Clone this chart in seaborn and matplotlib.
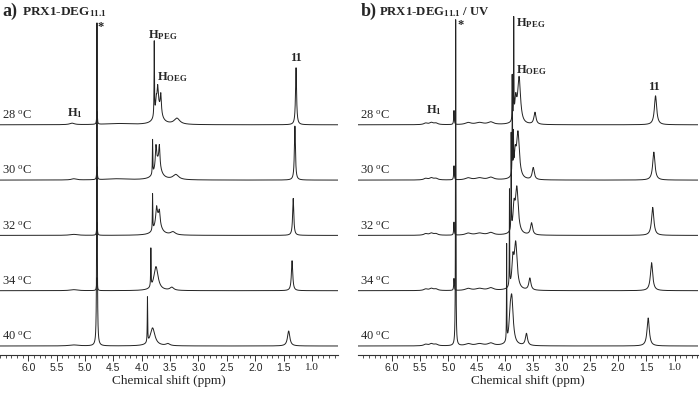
import numpy as np
import pandas as pd
import matplotlib
matplotlib.use("Agg")
import matplotlib.pyplot as plt
import seaborn as sns
from matplotlib.ticker import MultipleLocator

# temperatures, top trace first
temps = ["28", "30", "32", "34", "40"]

# peak lists per trace: (shift ppm, height, half width ppm)
# panel a) PRX1-DEG11.1
peaks_a_28 = [(5.23, 1.5, 0.05), (4.79, 13, 0.007), (4.45, 1.2, 0.25), (3.78, 74, 0.004),
              (3.745, 12, 0.012), (3.72, 19, 0.012), (3.665, 19, 0.012), (3.71, 18, 0.06),
              (3.38, 6, 0.06), (1.28, 57, 0.011)]
peaks_a_30 = [(5.2, 1.2, 0.05), (4.79, 13, 0.007), (4.45, 1.2, 0.25), (3.81, 34, 0.004),
              (3.75, 20, 0.012), (3.69, 20, 0.012), (3.72, 18, 0.06), (3.40, 5, 0.06),
              (1.30, 54, 0.011)]
peaks_a_32 = [(5.2, 1.0, 0.08), (4.79, 13, 0.007), (3.81, 36, 0.004), (3.74, 14, 0.015),
              (3.69, 12, 0.015), (3.72, 16, 0.06), (3.45, 3, 0.05), (1.33, 37, 0.012)]
peaks_a_34 = [(5.2, 1.0, 0.08), (4.79, 13, 0.007), (3.84, 38, 0.004), (3.75, 24, 0.045),
              (3.47, 3, 0.04), (1.35, 30, 0.014)]
peaks_a_40 = [(5.2, 1.0, 0.1), (4.79, 323, 0.005), (3.90, 45, 0.004), (3.81, 18, 0.05),
              (3.54, 2, 0.04), (1.41, 15, 0.025)]

# panel b) PRX1-DEG11.1 / UV
humps_b = [(5.40, 1.5, 0.04), (5.30, 2.0, 0.04), (5.22, 1.5, 0.04),
           (4.65, 2.0, 0.06), (4.45, 2.0, 0.08), (4.25, 2.5, 0.06)]
peaks_b_28 = humps_b + [(4.90, 14, 0.006), (3.87, 44, 0.003), (3.845, 98, 0.003),
                        (3.81, 22, 0.02), (3.75, 46, 0.03), (3.47, 12, 0.022), (1.34, 29, 0.024)]
peaks_b_30 = humps_b + [(4.90, 14, 0.006), (3.87, 98, 0.003), (3.85, 36, 0.003),
                        (3.82, 22, 0.02), (3.77, 46, 0.03), (3.50, 12, 0.022), (1.37, 28, 0.024)]
peaks_b_32 = humps_b + [(4.90, 13, 0.006), (3.89, 96, 0.003), (3.84, 24, 0.02),
                        (3.79, 46, 0.03), (3.53, 12, 0.022), (1.39, 28, 0.024)]
peaks_b_34 = humps_b + [(4.90, 12, 0.006), (3.92, 96, 0.003), (3.86, 26, 0.02),
                        (3.81, 46, 0.03), (3.56, 12, 0.022), (1.41, 28, 0.024)]
peaks_b_40 = humps_b + [(4.87, 326, 0.004), (3.97, 96, 0.003), (3.91, 18, 0.02),
                        (3.88, 46, 0.03), (3.62, 12, 0.022), (1.47, 28, 0.024)]

tick_vals = [6.0, 5.5, 5.0, 4.5, 4.0, 3.5, 3.0, 2.5, 2.0, 1.5, 1.0]


def lorentz_sum(ppm, peaks):
    y = np.zeros_like(ppm)
    for x0, h, w in peaks:
        y += h / (1 + ((ppm - x0) / w) ** 2)
    return y


def build_frame(peak_sets):
    ppm = np.linspace(6.7, 0.4, 30000)
    rows = []
    step = 55.3
    for i, (t, pk) in enumerate(zip(temps, peak_sets)):
        off = (len(temps) - 1 - i) * step
        rows.append(pd.DataFrame({"ppm": ppm, "signal": lorentz_sum(ppm, pk) + off, "temp": t}))
    return pd.concat(rows, ignore_index=True)


plt.rcParams["mathtext.fontset"] = "custom"
plt.rcParams["mathtext.rm"] = "Liberation Serif"
plt.rcParams["mathtext.bf"] = "Liberation Serif:bold"
plt.rcParams["mathtext.it"] = "Liberation Serif:italic"
sns.set_theme(style="white")
serif = "Liberation Serif"

fig = plt.figure(figsize=(7, 3.94), dpi=100)
ax_a = fig.add_axes([0.0, 39 / 394, 338 / 700, 340 / 394])
ax_b = fig.add_axes([358.3 / 700, 39 / 394, 339.7 / 700, 340 / 394])

panels = [
    (ax_a, [peaks_a_28, peaks_a_30, peaks_a_32, peaks_a_34, peaks_a_40], (6.5, 0.54)),
    (ax_b, [peaks_b_28, peaks_b_30, peaks_b_32, peaks_b_34, peaks_b_40], (6.59, 0.59)),
]

for ax, sets, xl in panels:
    df = build_frame(sets)
    sns.lineplot(data=df, x="ppm", y="signal", hue="temp", palette=["#222222"] * 5,
                 estimator=None, sort=False, legend=False, lw=0.7, ax=ax)
    ax.set_xlim(*xl)
    ax.set_ylim(-9, 331)
    ax.set_facecolor("white")
    for s in ["left", "right", "top"]:
        ax.spines[s].set_visible(False)
    ax.spines["bottom"].set_color("#333333")
    ax.spines["bottom"].set_linewidth(0.8)
    ax.set_yticks([])
    ax.set_ylabel("")
    ax.set_xticks(tick_vals)
    ax.set_xticklabels([f"{v:.1f}" for v in tick_vals], fontsize=7.5, family="Liberation Sans")
    ax.xaxis.set_minor_locator(MultipleLocator(0.1))
    ax.tick_params(axis="x", which="major", direction="out", length=4, width=0.7,
                   color="#333333", pad=1.5, bottom=True)
    ax.tick_params(axis="x", which="minor", direction="out", length=2, width=0.6,
                   color="#333333", bottom=True)
    for lab in ax.get_xticklabels():
        if lab.get_text() == "1.0":
            lab.set_family(serif)
            lab.set_fontsize(8)
    ax.set_xlabel("Chemical shift (ppm)", fontsize=9.5, family=serif, labelpad=2)
    for i, t in enumerate(temps):
        base = (len(temps) - 1 - i) * 55.3
        ax.text(0.006, base + 9, t + r" $^{\mathrm{o}}$C", transform=ax.get_yaxis_transform(),
                family=serif, fontsize=9, va="center", ha="left")

lab_kw = dict(family=serif, fontweight="bold", fontsize=9, va="center")
# panel a labels
ax_a.text(4.73, 319, "*", ha="center", **lab_kw)
ax_a.text(3.89, 311, r"H$_{\mathbf{PEG}}$", ha="left", **lab_kw)
ax_a.text(3.74, 269, r"H$_{\mathbf{OEG}}$", ha="left", **lab_kw)
ax_a.text(1.28, 288, "11", ha="center", **lab_kw)
ax_a.text(5.18, 233, r"H$_{\mathbf{1}}$", ha="center", **lab_kw)
# panel b labels
ax_b.text(4.78, 321, "*", ha="center", **lab_kw)
ax_b.text(3.80, 323, r"H$_{\mathbf{PEG}}$", ha="left", **lab_kw)
ax_b.text(3.81, 276, r"H$_{\mathbf{OEG}}$", ha="left", **lab_kw)
ax_b.text(1.36, 259, "11", ha="center", **lab_kw)
ax_b.text(5.26, 236, r"H$_{\mathbf{1}}$", ha="center", **lab_kw)

# panel titles
fig.text(2 / 700, 1 - 11 / 394, "a)", family=serif, fontweight="bold", fontsize=13, va="center")
fig.text(22 / 700, 1 - 12 / 394, r"PRX1-DEG$_{\mathbf{11.1}}$", family=serif,
         fontweight="bold", fontsize=9.5, va="center")
fig.text(361 / 700, 1 - 11 / 394, "b)", family=serif, fontweight="bold", fontsize=13, va="center")
fig.text(379 / 700, 1 - 12 / 394, r"PRX1-DEG$_{\mathbf{11.1}}$ / UV", family=serif,
         fontweight="bold", fontsize=9.2, va="center")

fig.savefig("out.png", dpi=100, facecolor="white")
